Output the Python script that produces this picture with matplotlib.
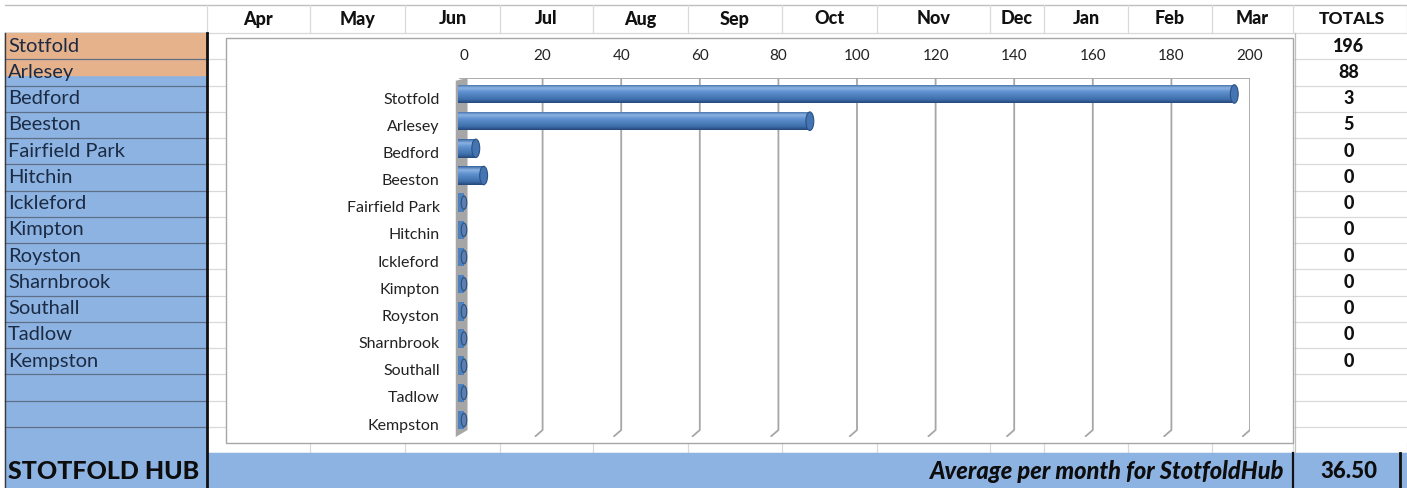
import numpy as np
import matplotlib.pyplot as plt
from matplotlib.patches import Rectangle, Ellipse, Polygon
from matplotlib.colors import LinearSegmentedColormap
from matplotlib.transforms import ScaledTranslation

plt.rcParams['font.family'] = ['Lato', 'DejaVu Sans']

# data
sites = ['Stotfold', 'Arlesey', 'Bedford', 'Beeston', 'Fairfield Park', 'Hitchin',
         'Ickleford', 'Kimpton', 'Royston', 'Sharnbrook', 'Southall', 'Tadlow', 'Kempston']
totals = [196, 88, 3, 5, 0, 0, 0, 0, 0, 0, 0, 0, 0]
months = ['Apr', 'May', 'Jun', 'Jul', 'Aug', 'Sep', 'Oct', 'Nov', 'Dec', 'Jan', 'Feb', 'Mar']
axis_ticks = [0, 20, 40, 60, 80, 100, 120, 140, 160, 180, 200]
hub_name = 'STOTFOLD HUB'
avg_label = 'Average per month for StotfoldHub'
avg_value = 36.50

W, H = 1407, 488
fig = plt.figure(figsize=(W / 100, H / 100), dpi=100)

# ---- spreadsheet background, in pixel units ----
sheet = fig.add_axes([0, 0, 1, 1])
sheet.set_xlim(0, W)
sheet.set_ylim(H, 0)
sheet.axis('off')

blue = '#8db3e2'
orange = '#e6b28c'
grid_c = '#d9d9d9'
txt_c = '#111111'

col_edges = [207, 310, 405, 500, 593, 688, 782, 877, 990, 1044, 1128, 1212, 1293, W]
row_top, row_h, n_rows = 33, 26.25, 16
hub_top = row_top + row_h * n_rows

# light cell grid
for k in range(n_rows + 1):
    y = row_top + k * row_h
    sheet.plot([207, W], [y, y], color=grid_c, lw=0.9, zorder=1)
sheet.plot([5, W], [5, 5], color='#bfbfbf', lw=1, zorder=1)
sheet.plot([5, 207], [row_top, row_top], color='#bfbfbf', lw=1, zorder=1)
for x in col_edges:
    sheet.plot([x, x], [5, row_top], color=grid_c, lw=0.9, zorder=1)
    sheet.plot([x, x], [443, hub_top], color=grid_c, lw=0.9, zorder=1)
sheet.plot([1295, 1295], [row_top, hub_top], color='#bfbfbf', lw=0.9, zorder=1)

# month headers + totals header
for i, m in enumerate(months):
    cx = (col_edges[i] + col_edges[i + 1]) / 2
    sheet.text(cx, 19, m, ha='center', va='center', fontsize=13,
               fontweight='black', color=txt_c)
sheet.text(1352, 19, 'TOTALS', ha='center', va='center', fontsize=12.5,
           fontweight='black', color=txt_c)

# column A (site names)
sheet.add_patch(Rectangle((5, row_top), 202, hub_top - row_top, color=blue, zorder=1))
sheet.add_patch(Rectangle((5, row_top), 202, 42, color=orange, zorder=1))
for k in range(1, n_rows):
    y = row_top + k * row_h
    sheet.plot([5, 207], [y, y], color='#5f6f88', lw=0.9, zorder=2)
for i, s in enumerate(sites):
    sheet.text(8, row_top + row_h * (i + 0.5), s, ha='left', va='center',
               fontsize=14.5, color='#1c2b44', zorder=3)

# totals column
for i, t in enumerate(totals):
    sheet.text(1349, row_top + row_h * (i + 0.5), str(t), ha='center', va='center',
               fontsize=13, fontweight='black', color='#111111', zorder=3)

# hub row
sheet.add_patch(Rectangle((5, hub_top), W - 5, H - hub_top, color=blue, zorder=1))
sheet.text(8, (hub_top + H) / 2 + 1, hub_name, ha='left', va='center', fontsize=18,
           fontweight='black', color='#0d0d0d', zorder=3)
sheet.text(1284, (hub_top + H) / 2 + 1, avg_label, ha='right', va='center', fontsize=17,
           fontweight='black', fontstyle='italic', color='#0d0d0d', zorder=3)
sheet.text(1349, (hub_top + H) / 2 + 1, f'{avg_value:.2f}', ha='center', va='center',
           fontsize=16, fontweight='black', color='#0d0d0d', zorder=3)
sheet.plot([1293, 1293], [hub_top, H], color='#111111', lw=1.6, zorder=3)
sheet.plot([1400, 1400], [hub_top, H], color='#111111', lw=2, zorder=3)

# thick borders of column A
sheet.plot([207, 207], [row_top, H], color='#111111', lw=2, zorder=3)
sheet.plot([5, 5], [row_top, H], color='#3a3a3a', lw=1, zorder=3)

# chart frame
sheet.add_patch(Rectangle((226, 38), 1067, 405, fc='white', ec='#a6a6a6', lw=1, zorder=4))

# ---- chart ----
x0_px, scale = 464, 3.93           # pixel of value 0, pixels per unit
xmin, xmax = -3, 200
top_px, bot_px = 78, 437
y0_px, step = 94, 27.17           # centre of first bar, spacing
ylo = (top_px - y0_px) / step
yhi = (bot_px - y0_px) / step

ax_left = x0_px + xmin * scale
ax_right = x0_px + xmax * scale
ax = fig.add_axes([ax_left / W, 1 - bot_px / H, (ax_right - ax_left) / W, (bot_px - top_px) / H],
                  zorder=5)
ax.patch.set_alpha(0)

ypos = np.arange(len(sites))
foot_y = (430 - y0_px) / step
wall_c = '#a6a6a6'

# back-wall gridlines with 3D foot
for g in axis_ticks[1:]:
    ax.plot([g, g, g - 1.8], [ylo, foot_y, yhi - 0.03], color=wall_c, lw=1.3, zorder=1)
ax.plot([-1, xmax], [ylo, ylo], color=wall_c, lw=1.3, zorder=1)

# side wall
ax.add_patch(Polygon([(-2.1, ylo + 0.1), (0.9, ylo), (0.9, foot_y), (-2.1, yhi)],
                     closed=True, fc=wall_c, ec='none', zorder=2))

# cylinder bars
cyl = LinearSegmentedColormap.from_list(
    'cyl', ['#3565a0', '#8cb2e2', '#6192d0', '#4f81bd', '#3f70ae', '#27497a'])
grad = np.linspace(0, 1, 64).reshape(-1, 1)
bar_h = 0.68
start = -1.4
bars = ax.barh(ypos, np.array(totals) - start, left=start, height=bar_h,
               color='#4f81bd', edgecolor='none', zorder=3)
for b, v, y in zip(bars, totals, ypos):
    if v > 0:
        im = ax.imshow(grad, extent=[start, v, y + bar_h / 2, y - bar_h / 2],
                       aspect='auto', cmap=cyl, zorder=3)
        im.set_clip_path(b)
    cap_w = 2.0 if v > 0 else 1.4
    cap_h = bar_h if v > 0 else 0.5
    ax.add_patch(Ellipse((v, y), cap_w, cap_h, fc='#4474b2' if v > 0 else '#5d7fae',
                         ec='#2a5184', lw=0.8, zorder=4))

ax.set_xlim(xmin, xmax)
ax.set_ylim(yhi, ylo)
ax.xaxis.tick_top()
ax.set_xticks(axis_ticks)
ax.set_xticklabels([str(t) for t in axis_ticks], fontsize=11, color='#222222')
ax.set_yticks(ypos)
ax.set_yticklabels(sites, fontsize=11.5, color='#222222')
ax.tick_params(axis='both', length=0)
ax.tick_params(axis='x', pad=10.5)
ax.tick_params(axis='y', pad=9)
shift = ScaledTranslation(0, -4 / 100, fig.dpi_scale_trans)
for lbl in ax.get_yticklabels():
    lbl.set_transform(lbl.get_transform() + shift)
for sp in ax.spines.values():
    sp.set_visible(False)

fig.savefig('out.png', dpi=100)
